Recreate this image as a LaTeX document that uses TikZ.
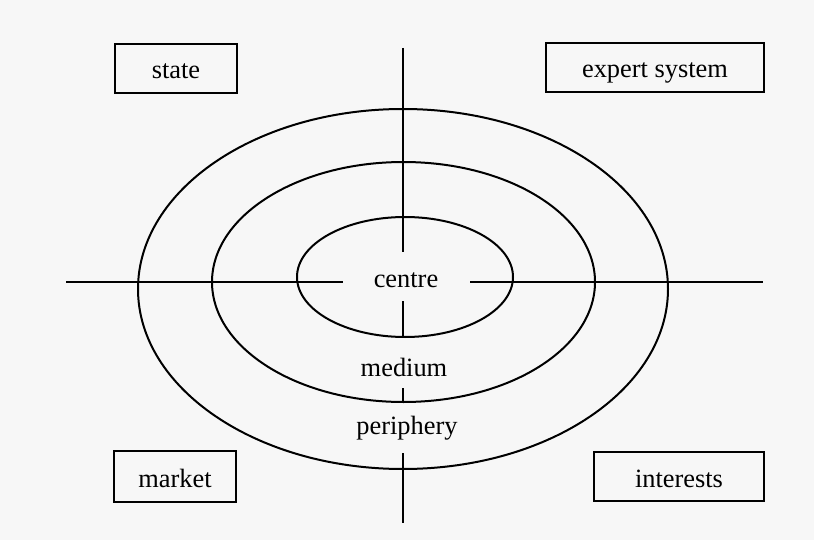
\documentclass[tikz,border=0pt]{standalone}
\usepackage{fontspec}
\setmainfont{Liberation Serif}
\usetikzlibrary{positioning}
\begin{document}
\begin{tikzpicture}[x=0.5pt,y=-0.5pt,line width=1pt,
	tag/.style={draw,line width=1.1pt,inner sep=0pt,minimum height=24.5pt,text height=10.5pt,text depth=0pt,font=\fontsize{13.2}{15}\selectfont},
	ring/.style={inner sep=1pt,font=\fontsize{13.2}{15}\selectfont}]
	\fill[black!3] (0,0) rectangle (814,540);
	\useasboundingbox (0,0) rectangle (814,540);
	% three rings
	\draw (403,289) ellipse (265 and 180);
	\draw (403.5,282) ellipse (191.5 and 120);
	\draw (405,277) ellipse (108 and 60);
	% ring labels
	\node[ring] (centre) at (406,280) {centre};
	\node[ring] (medium) at (404,367) {medium};
	\node[ring] (periphery) at (407,428) {periphery};
	% axes, broken at the labels
	\coordinate (west) at (66,282);   \coordinate (cw) at (343,282);
	\coordinate (ce) at (470,282);    \coordinate (east) at (763,282);
	\draw (west) -- (cw);
	\draw (ce) -- (east);
	\foreach \st/\en in {48/252, 301/337, 388/403, 453/523} {
		\draw (403,\st) coordinate (v\st) -- (403,\en);
	}
	% four boxes
	\node[tag,minimum width=61pt] (state) at (176,68.5) {state};
	\node[tag,minimum width=109pt] (expert) at (655,67.5) {expert system};
	\node[tag,minimum width=61pt,minimum height=25.5pt] (market) at (175,476.5) {market};
	\node[tag,minimum width=85pt] (interests) at (679,476.5) {interests};
\end{tikzpicture}
\end{document}
